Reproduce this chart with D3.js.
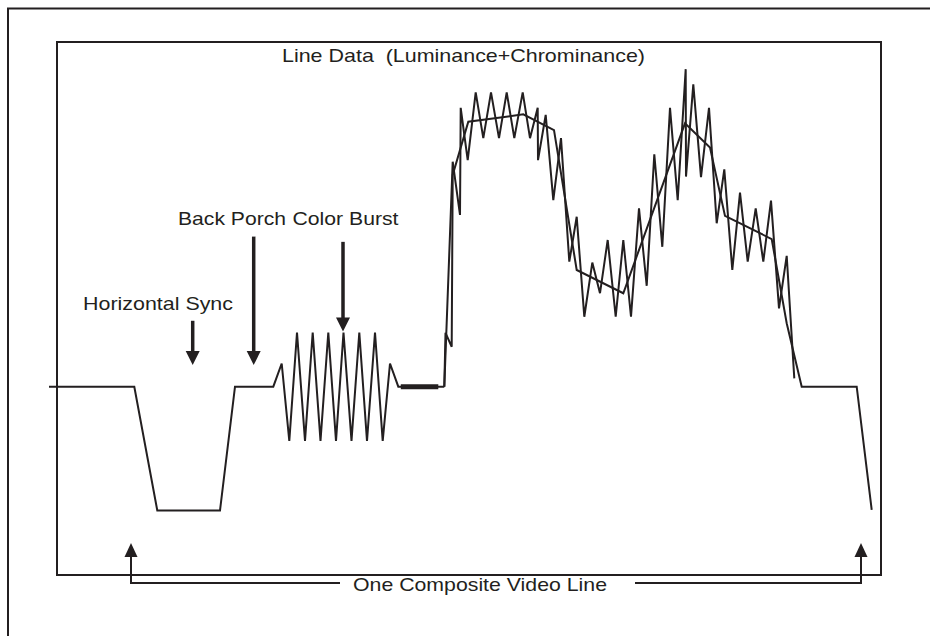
<!DOCTYPE html>
<html>
<head>
<meta charset="utf-8">
<script src="https://cdn.jsdelivr.net/npm/d3@7"></script>
<style>
  body { margin: 0; background: #fff; }
  text { font-family: "Liberation Sans", Arial, Helvetica, sans-serif; fill: #231f20; }
</style>
</head>
<body>
<div id="chart"></div>
<script>
// time units (10 per marker step) and level in IRE (0 = blanking, -40 = sync tip)
var syncTimes = [-8.2, 0.33, 2.63, 8.9, 10.4, 14.23]
var syncLevels = [0, 0, -40, -40, 0, 0]

var burstTimes = [15.07, 15.83, 16.6, 17.4, 18.17, 18.95, 19.73, 20.5, 21.25, 22.05, 22.83, 23.6, 24.4, 25.17, 25.9, 26.73, 31.33]
var burstLevels = [7.5, -17.5, 17.5, -17.5, 17.5, -17.5, 17.5, -17.5, 17.5, -17.5, 17.5, -17.5, 17.5, -17.5, 7.5, 0, 0]

// breezeway (thick blank segment)
var breezeTimes = [26.98, 30.73]

// luminance + chrominance
var videoTimes = [31.33, 32.17, 32.9, 32.97, 33.67, 34.47, 35.23, 36.0, 36.8, 37.57, 38.33, 39.17, 39.9, 40.67, 40.7,
  41.47, 42.23, 43.0, 43.83, 44.57, 45.33, 46.13, 46.9, 47.67, 48.47, 49.23, 50.0, 50.8, 51.57, 52.33, 53.13, 53.9,
  54.67, 55.47, 55.5, 56.23, 57.0, 57.8, 58.57, 59.33, 60.13, 60.9, 61.67, 62.47, 63.23, 64.0, 64.8, 65.57, 66.33]
var videoLevels = [0, 72.7, 55.5, 90.1, 73.2, 95.1, 80.3, 95.1, 80.3, 95.1, 80.3, 95.1, 80.3, 90.1, 73.2,
  87.8, 60.3, 80.3, 40.4, 54.9, 22.6, 40.1, 30.2, 47.4, 22.6, 47.4, 22.6, 57.6, 32.6, 75.1, 45.2, 90.1,
  60.3, 102.6, 67.9, 97.7, 67.7, 90.1, 52.8, 70.2, 37.7, 62.7, 40.4, 57.6, 40.4, 60.1, 25.3, 42.3, 2.7]

// luminance only
var lumaTimes = [31.33, 31.45, 32.07, 32.17, 33.73, 39.23, 42.3, 44.57, 49.23, 55.4, 57.9, 59.4, 64.07, 65.57, 67.07, 72.57, 74.07]
var lumaLevels = [0, 17.4, 12.9, 68.4, 85.6, 88.0, 82.9, 37.7, 30.2, 85.1, 77.3, 55.2, 47.7, 20.5, 0, 0, -39.8]

// annotations
var arrowLabels = ["Horizontal Sync", "Back Porch", "Color Burst"]
var arrowTimes = [6.17, 12.27, 21.2]
var arrowFrom = [21.3, 48.5, 46.8]
var arrowTo = [7.0, 7.0, 17.8]

var titleText = "Line Data  (Luminance+Chrominance)"
var lineLabel = "One Composite Video Line"
var lineStart = 0
var lineEnd = 73

var ink = "#231f20"

var svg = d3.select("#chart").append("svg")
    .attr("width", 930)
    .attr("height", 636)

var x = d3.scaleLinear().domain([0, 73]).range([131, 861])
var y = d3.scaleLinear().domain([-40, 0]).range([510.5, 386.7])

function zip(ts, vs) {
    var out = []
    for (let i in ts) {
        out.push([ts[i], vs[i]])
    }
    return out
}

var line = d3.line()
    .x(function (d) { return x(d[0]) })
    .y(function (d) { return y(d[1]) })

// outer frame (runs off the page right and bottom)
svg.append("path")
    .attr("d", "M8,640 L8,8.5 L935,8.5")
    .attr("fill", "none")
    .attr("stroke", ink)
    .attr("stroke-width", 2)

// plot box
svg.append("rect")
    .attr("x", 57)
    .attr("y", 42)
    .attr("width", 824)
    .attr("height", 533)
    .attr("fill", "none")
    .attr("stroke", ink)
    .attr("stroke-width", 2)

var wave = syncTimes.map(function (t, i) { return [t, syncLevels[i]] })
    .concat(zip(burstTimes, burstLevels))

svg.append("path")
    .attr("d", line(wave))
    .attr("fill", "none")
    .attr("stroke", ink)
    .attr("stroke-width", 2)
    .attr("stroke-linejoin", "miter")

svg.append("path")
    .attr("d", line(zip(breezeTimes, [0, 0])))
    .attr("stroke", ink)
    .attr("stroke-width", 5)

svg.append("path")
    .attr("d", line(zip(videoTimes, videoLevels)))
    .attr("fill", "none")
    .attr("stroke", ink)
    .attr("stroke-width", 2)

svg.append("path")
    .attr("d", line(zip(lumaTimes, lumaLevels)))
    .attr("fill", "none")
    .attr("stroke", ink)
    .attr("stroke-width", 2)

// down arrows
var arrows = svg.selectAll("g.arrow")
    .data(arrowTimes)
    .enter()
    .append("g")
    .attr("class", "arrow")

arrows.append("line")
    .attr("x1", function (d) { return x(d) })
    .attr("x2", function (d) { return x(d) })
    .attr("y1", function (d, i) { return y(arrowFrom[i]) })
    .attr("y2", function (d, i) { return y(arrowTo[i]) - 10 })
    .attr("stroke", ink)
    .attr("stroke-width", 3.5)

arrows.append("path")
    .attr("d", function (d, i) {
        var tx = x(d), ty = y(arrowTo[i])
        return "M" + (tx - 7) + "," + (ty - 14) + " L" + (tx + 7) + "," + (ty - 14) + " L" + tx + "," + ty + " Z"
    })
    .attr("fill", ink)

// labels
svg.append("text")
    .attr("x", 83).attr("y", 310)
    .attr("font-size", 19)
    .attr("textLength", 150).attr("lengthAdjust", "spacingAndGlyphs")
    .text(arrowLabels[0])
svg.append("text")
    .attr("x", 178).attr("y", 225)
    .attr("font-size", 19)
    .attr("textLength", 108).attr("lengthAdjust", "spacingAndGlyphs")
    .text(arrowLabels[1])
svg.append("text")
    .attr("x", 292.5).attr("y", 225)
    .attr("font-size", 19)
    .attr("textLength", 106).attr("lengthAdjust", "spacingAndGlyphs")
    .text(arrowLabels[2])

svg.append("text")
    .attr("x", 282).attr("y", 62)
    .attr("font-size", 19)
    .attr("textLength", 363).attr("lengthAdjust", "spacingAndGlyphs")
    .style("white-space", "pre")
    .text(titleText)

// bracket for one line period
var by = 583
svg.append("path")
    .attr("d", "M" + x(lineStart) + "," + by + " L340," + by + " M635," + by + " L" + x(lineEnd) + "," + by)
    .attr("fill", "none")
    .attr("stroke", ink)
    .attr("stroke-width", 2)

svg.selectAll("line.up")
    .data([lineStart, lineEnd])
    .enter()
    .append("line")
    .attr("class", "up")
    .attr("x1", function (d) { return x(d) })
    .attr("x2", function (d) { return x(d) })
    .attr("y1", by + 1)
    .attr("y2", 555)
    .attr("stroke", ink)
    .attr("stroke-width", 2)

svg.selectAll("path.uphead")
    .data([lineStart, lineEnd])
    .enter()
    .append("path")
    .attr("class", "uphead")
    .attr("d", function (d) {
        var tx = x(d)
        return "M" + (tx - 6.5) + ",557 L" + (tx + 6.5) + ",557 L" + tx + ",543 Z"
    })
    .attr("fill", ink)

svg.append("text")
    .attr("x", 353).attr("y", 591)
    .attr("font-size", 19)
    .attr("textLength", 254).attr("lengthAdjust", "spacingAndGlyphs")
    .text(lineLabel)
</script>
</body>
</html>
